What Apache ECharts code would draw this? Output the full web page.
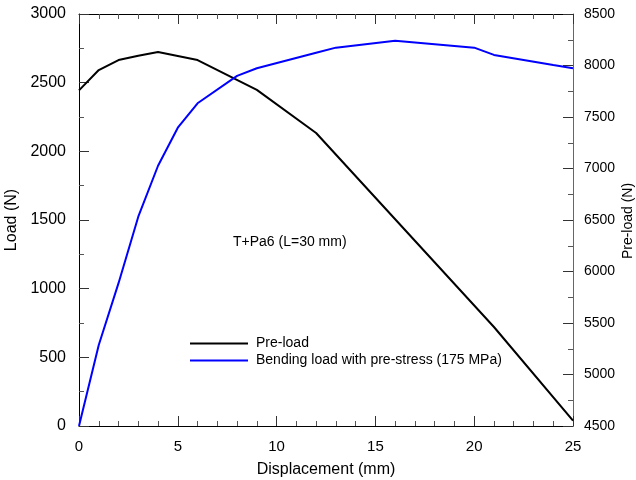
<!DOCTYPE html>
<html>
<head>
<meta charset="utf-8">
<script src="https://cdn.jsdelivr.net/npm/echarts@6/dist/echarts.min.js"></script>
<style>html,body{margin:0;padding:0;background:#fff}#c{width:636px;height:480px}</style>
</head>
<body>
<div id="c"></div>
<script>
// Pre-load (right axis, N) vs displacement (mm)
const preDisp = [0, 1, 2, 3, 4, 5, 6, 9, 12, 21, 25];
const preLoad = [7759, 7956, 8053, 8095, 8131, 8092, 8053, 7763, 7345, 5461, 4553];
// Bending load with pre-stress (left axis, N)
const bendDisp = [0, 1, 2, 3, 4, 5, 6, 8, 9, 12, 13, 16, 20, 21, 24, 25];
const bendLoad = [0, 590, 1040, 1524, 1895, 2172, 2350, 2549, 2605, 2718, 2755, 2806, 2755, 2702, 2629, 2605];

const seriesNames = ['Pre-load', 'Bending load with pre-stress (175 MPa)'];
const annotation = 'T+Pa6 (L=30 mm)';
const rightTitle = 'Pre-load (N)';

const FONT = '"Liberation Sans", Arial, sans-serif';
const chart = echarts.init(document.getElementById('c'), null, {renderer: 'canvas'});
const plain = v => String(v);

const axisBase = {
  axisLine: {show: true, onZero: false, lineStyle: {color: '#000', width: 1}},
  axisTick: {show: true, inside: true, length: 10, lineStyle: {color: '#333'}},
  splitLine: {show: false},
  minorSplitLine: {show: false}
};

chart.setOption({
  animation: false,
  backgroundColor: '#fff',
  textStyle: {fontFamily: FONT},
  grid: {left: 79, right: 63, top: 14, bottom: 54, containLabel: false, outerBoundsMode: 'none'},
  legend: {
    orient: 'vertical', left: 185, top: 330,
    itemWidth: 58, itemHeight: 2, itemGap: 0, icon: 'rect',
    textStyle: {fontFamily: FONT, fontSize: 14, color: '#000', lineHeight: 17, padding: [0, 0, 0, 3]},
    data: seriesNames
  },
  xAxis: [
    Object.assign({}, axisBase, {
      type: 'value', min: 0, max: 25, interval: 5, position: 'bottom',
      minorTick: {show: true, splitNumber: 5, length: 5, lineStyle: {color: '#555'}},
      name: 'Displacement (mm)', nameLocation: 'middle', nameGap: 36,
      nameTextStyle: {fontFamily: FONT, fontSize: 16, color: '#000'},
      axisLabel: {fontFamily: FONT, fontSize: 15, color: '#000', margin: 13, formatter: plain}
    }),
    Object.assign({}, axisBase, {
      type: 'value', min: 0, max: 25, interval: 5, position: 'top',
      minorTick: {show: true, splitNumber: 5, length: 5, lineStyle: {color: '#555'}},
      axisLabel: {show: false}
    })
  ],
  yAxis: [
    Object.assign({}, axisBase, {
      type: 'value', min: 0, max: 3000, interval: 500, position: 'left',
      minorTick: {show: true, splitNumber: 2, length: 5, lineStyle: {color: '#555'}},
      name: 'Load (N)', nameLocation: 'middle', nameGap: 53, nameRotate: 90,
      nameTextStyle: {fontFamily: FONT, fontSize: 16, color: '#000'},
      axisLabel: {fontFamily: FONT, fontSize: 16, color: '#000', margin: 13, formatter: plain}
    }),
    Object.assign({}, axisBase, {
      type: 'value', min: 4500, max: 8500, interval: 500, position: 'right',
      axisLine: {show: true, onZero: false, lineStyle: {color: '#666', width: 1}},
      minorTick: {show: true, splitNumber: 2, length: 5, lineStyle: {color: '#555'}},
      axisLabel: {fontFamily: FONT, fontSize: 14, color: '#000', margin: 11, formatter: plain}
    })
  ],
  graphic: [
    {
      type: 'text', left: 233, top: 235,
      style: {text: annotation, font: '14px ' + FONT, fill: '#000'}
    },
    {
      type: 'text', x: 628, y: 221, rotation: Math.PI / 2,
      style: {text: rightTitle, font: '14px ' + FONT, fill: '#000', align: 'center', verticalAlign: 'middle'}
    }
  ],
  series: [
    {
      name: seriesNames[0], type: 'line', xAxisIndex: 0, yAxisIndex: 1,
      showSymbol: false, symbol: 'none', color: '#000',
      lineStyle: {color: '#000', width: 2},
      data: preDisp.map((x, i) => [x, preLoad[i]])
    },
    {
      name: seriesNames[1], type: 'line', xAxisIndex: 0, yAxisIndex: 0,
      showSymbol: false, symbol: 'none', color: '#0000ff',
      lineStyle: {color: '#0000ff', width: 2},
      data: bendDisp.map((x, i) => [x, bendLoad[i]])
    }
  ]
});
</script>
</body>
</html>
